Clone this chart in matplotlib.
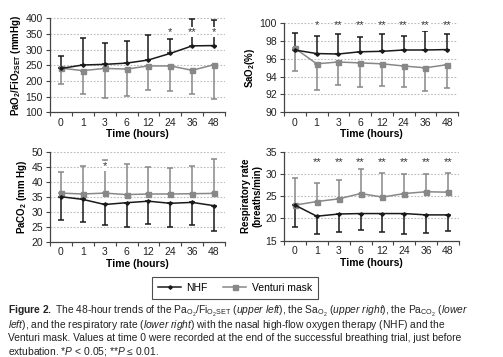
import numpy as np
import matplotlib
matplotlib.use("Agg")
import matplotlib.pyplot as plt
from matplotlib.lines import Line2D

plt.rcParams["font.family"] = ["Liberation Sans", "DejaVu Sans"]
plt.rcParams["mathtext.fontset"] = "custom"
plt.rcParams["mathtext.rm"] = "Liberation Sans"
plt.rcParams["mathtext.it"] = "Liberation Sans:italic"
plt.rcParams["mathtext.bf"] = "Liberation Sans:bold"

# ── data ──────────────────────────────────────────────────────
hours = ["0", "1", "3", "6", "12", "24", "36", "48"]

# PaO2/FiO2SET (mmHg)
pf_nhf = [240, 251, 253, 257, 267, 288, 312, 313]
pf_nhf_up = [281, 338, 321, 329, 346, 333, 397, 395]
pf_ven = [241, 233, 240, 238, 248, 248, 234, 252]
pf_ven_lo = [190, 157, 147, 152, 171, 168, 159, 141]
pf_stars = ["", "", "", "", "", "*", "**", "*"]

# SaO2 (%)
sa_nhf = [97.0, 96.6, 96.55, 96.8, 96.85, 97.0, 97.0, 97.05]
sa_nhf_up = [98.95, 98.55, 98.85, 98.5, 98.75, 98.6, 99.1, 98.85]
sa_ven = [97.2, 95.45, 95.65, 95.55, 95.45, 95.2, 95.0, 95.35]
sa_ven_lo = [94.65, 92.45, 93.1, 92.85, 93.0, 92.85, 92.35, 92.7]
sa_stars = ["", "*", "**", "**", "**", "**", "**", "**"]

# PaCO2 (mmHg)
pc_nhf = [35.0, 34.1, 32.4, 33.0, 33.5, 32.8, 33.1, 32.0]
pc_nhf_lo = [27.3, 26.4, 25.4, 25.0, 26.0, 24.8, 25.6, 23.7]
pc_ven = [36.2, 35.9, 36.2, 35.7, 35.9, 35.9, 36.0, 36.1]
pc_ven_up = [43.1, 45.2, 47.1, 45.8, 44.8, 44.4, 45.3, 47.7]
pc_stars = ["", "", "*", "", "", "", "", ""]

# Respiratory rate (breaths/min)
rr_nhf = [23.0, 20.5, 21.0, 21.1, 21.1, 21.1, 20.8, 20.8]
rr_nhf_lo = [18.0, 16.5, 17.0, 17.5, 17.0, 16.5, 16.8, 17.2]
rr_ven = [23.0, 23.8, 24.4, 25.6, 24.8, 25.6, 26.0, 25.9]
rr_ven_up = [29.0, 28.0, 28.6, 31.0, 30.2, 30.1, 30.1, 30.3]
rr_stars = ["", "**", "**", "**", "**", "**", "**", "**"]

NHF_C = "#1a1a1a"
VEN_C = "#888888"
W, H = 503, 357


def box(l, t, r, b):
    return [l / W, 1 - b / H, (r - l) / W, (b - t) / H]


def draw_panel(ax, nhf, nhf_bar, nhf_dir, ven, ven_bar, ven_dir, stars, star_y,
               ylim, yticks, ylabel):
    x = np.arange(len(hours))
    nhf = np.array(nhf)
    ven = np.array(ven)
    for vals, bar, d, col in [(ven, ven_bar, ven_dir, VEN_C), (nhf, nhf_bar, nhf_dir, NHF_C)]:
        err = np.abs(np.array(bar) - vals)
        yerr = [np.zeros_like(err), err] if d == "up" else [err, np.zeros_like(err)]
        ax.errorbar(x, vals, yerr=yerr, fmt="none", ecolor=col, elinewidth=1.1,
                    capsize=2, capthick=1.1, zorder=3)
    ax.plot(x, ven, color=VEN_C, lw=1.1, marker="s", ms=3.6, zorder=4)
    ax.plot(x, nhf, color=NHF_C, lw=1.1, marker="D", ms=1.8, zorder=5)
    for xi, s in zip(x, stars):
        if s:
            ax.text(xi, star_y, s, ha="center", va="center", fontsize=8,
                    color="#333333", zorder=6,
                    bbox=dict(facecolor="white", edgecolor="none", pad=0.1))

    ax.set_xlim(-0.5, len(hours) - 0.5)
    ax.set_ylim(*ylim)
    ax.set_yticks(yticks)
    ax.set_xticks(x)
    ax.set_xticklabels(hours)
    ax.set_xticks(np.arange(-0.5, len(hours)), minor=True)
    ax.tick_params(axis="x", which="major", length=0, labelsize=7.5, pad=4, colors="#222222")
    ax.tick_params(axis="x", which="minor", length=3, width=0.8, color="#444444")
    ax.tick_params(axis="y", length=3, width=0.8, labelsize=7.5, pad=2, color="#444444",
                   labelcolor="#222222")
    for side in ["top", "right"]:
        ax.spines[side].set_visible(False)
    for side in ["left", "bottom"]:
        ax.spines[side].set_color("#444444")
        ax.spines[side].set_linewidth(0.9)
    for yv in yticks[1:]:
        ax.axhline(yv, color="#bbbbbb", lw=0.8, ls=(0, (1.5, 1.5)), zorder=1)
    ax.set_xlabel("Time (hours)", fontsize=7.5, fontweight="bold", labelpad=1)
    ax.set_ylabel(ylabel, fontsize=7, fontweight="bold", labelpad=2)


fig = plt.figure(figsize=(W / 100, H / 100), dpi=100)

ax1 = fig.add_axes(box(50, 18.3, 225, 112.3))
draw_panel(ax1, pf_nhf, pf_nhf_up, "up", pf_ven, pf_ven_lo, "down", pf_stars, 356,
           (100, 400), list(range(100, 401, 50)),
           r"PaO$_\mathbf{2}$/FiO$_\mathbf{2SET}$ (mmHg)")

ax2 = fig.add_axes(box(284, 23.3, 458, 112.3))
draw_panel(ax2, sa_nhf, sa_nhf_up, "up", sa_ven, sa_ven_lo, "down", sa_stars, 99.75,
           (90, 100), list(range(90, 101, 2)), r"SaO$_\mathbf{2}$(%)")

ax3 = fig.add_axes(box(50, 151.7, 225, 241.7))
draw_panel(ax3, pc_nhf, pc_nhf_lo, "down", pc_ven, pc_ven_up, "up", pc_stars, 45.3,
           (20, 50), list(range(20, 51, 5)), r"PaCO$_\mathbf{2}$ (mm Hg)")

ax4 = fig.add_axes(box(284, 151.7, 459, 240.7))
draw_panel(ax4, rr_nhf, rr_nhf_lo, "down", rr_ven, rr_ven_up, "up", rr_stars, 32.6,
           (15, 35), list(range(15, 36, 5)), "Respiratory rate\n(breaths/min)")

handles = [
    Line2D([], [], color=NHF_C, lw=1.1, marker="D", ms=1.8),
    Line2D([], [], color=VEN_C, lw=1.1, marker="s", ms=3.6),
]
leg = fig.legend(handles, ["NHF", "Venturi mask"], loc="center",
                 bbox_to_anchor=(235 / W, 1 - 288 / H), ncol=2, fontsize=7.5,
                 frameon=True, fancybox=False, handlelength=2.2, columnspacing=1.5,
                 borderpad=0.6, handletextpad=0.5)
leg.get_frame().set_edgecolor("#222222")
leg.get_frame().set_linewidth(0.8)

caption = [
    r"$\mathbf{Figure\ 2.}$ The 48-hour trends of the Pa$_{\mathrm{O_2}}$/Fi$_{\mathrm{O_2SET}}$ "
    r"($\it{upper\ left}$), the Sa$_{\mathrm{O_2}}$ ($\it{upper\ right}$), the Pa$_{\mathrm{CO_2}}$ ($\it{lower}$",
    r"$\it{left}$), and the respiratory rate ($\it{lower\ right}$) with the nasal high-flow oxygen therapy (NHF) and the",
    "Venturi mask. Values at time 0 were recorded at the end of the successful breathing trial, just before",
    r"extubation. *$\it{P}$ < 0.05; **$\it{P}$ ≤ 0.01.",
]
for i, line in enumerate(caption):
    fig.text(8 / W, 1 - (311.5 + i * 13.3) / H, line, ha="left", va="center",
             fontsize=7.35, color="#222222")

fig.savefig("out.png", dpi=100)
